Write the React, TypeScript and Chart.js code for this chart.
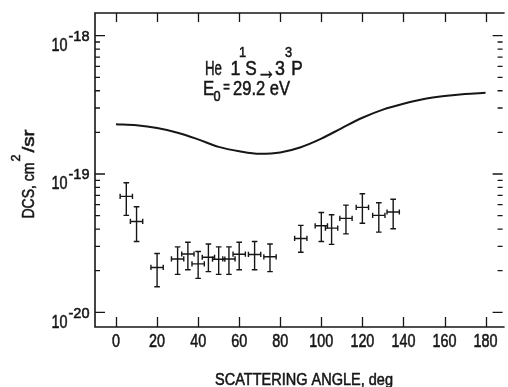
import React, { useEffect, useRef } from "react";
import { Chart, registerables } from "chart.js";

Chart.register(...registerables);

// Theory curve: differential cross section vs scattering angle
const curveAngles = [0, 10, 20, 30, 40, 50, 60, 70, 80, 90, 100, 110, 120, 130, 140, 150, 160, 170, 180];
const curveDcs = [
  2.29e-19, 2.25e-19, 2.15e-19, 1.99e-19, 1.78e-19, 1.57e-19, 1.46e-19, 1.4e-19, 1.43e-19, 1.56e-19,
  1.8e-19, 2.15e-19, 2.55e-19, 2.92e-19, 3.22e-19, 3.48e-19, 3.66e-19, 3.79e-19, 3.86e-19,
];

// Measured points with error bars (DCS in units of 1e-20 cm^2/sr)
const measAngles = [5, 10, 20, 30, 35, 40, 45, 50, 55, 60, 67.5, 75, 90, 100, 105, 112, 120, 128, 135];
const measDcs = [6.89, 4.54, 2.11, 2.43, 2.64, 2.24, 2.5, 2.42, 2.43, 2.63, 2.62, 2.52, 3.42, 4.22, 4.06, 4.78, 5.74, 5.02, 5.31];
const measUpper = [8.65, 5.8, 2.66, 2.97, 3.21, 2.75, 3.12, 2.97, 2.97, 3.21, 3.25, 3.12, 4.25, 5.27, 5.07, 5.96, 7.2, 6.19, 6.56];
const measLower = [5.02, 3.25, 1.53, 1.88, 2.03, 1.76, 1.97, 1.88, 1.88, 2.03, 2.03, 1.97, 2.72, 3.25, 3.1, 3.69, 4.4, 3.8, 4.02];
const angleHalfWidth = 3;
const measUnit = 1e-20;

// Axes
const xTicks = [0, 20, 40, 60, 80, 100, 120, 140, 160, 180];
const yDecades = [1e-20, 1e-19, 1e-18];
const yMinorMultipliers = [2, 3, 4, 5, 6, 7, 8, 9];
const xRange = [-10.24, 188.3];
const yRange = [7.83e-21, 1.459e-18];

const xTitle = "SCATTERING ANGLE, deg";
const INK = "#161616";
const FONT = '"Liberation Sans", Arial, "DejaVu Sans", sans-serif';

function ink(ctx: CanvasRenderingContext2D, s: string) {
  ctx.fillText(s, 0, 0);
  ctx.lineWidth = 0.55;
  ctx.strokeText(s, 0, 0);
}

function fitText(ctx: CanvasRenderingContext2D, s: string, x0: number, x1: number, baseline: number, size: number) {
  ctx.font = `${size}px ${FONT}`;
  const w = ctx.measureText(s).width;
  const sx = (x1 - x0) / w;
  ctx.save();
  ctx.translate(x0, baseline);
  ctx.scale(sx, 1);
  ctx.textAlign = "left";
  ctx.textBaseline = "alphabetic";
  ink(ctx, s);
  ctx.restore();
}

function centerText(ctx: CanvasRenderingContext2D, s: string, cx: number, baseline: number, size: number, sx: number) {
  ctx.font = `${size}px ${FONT}`;
  ctx.save();
  ctx.translate(cx, baseline);
  ctx.scale(sx, 1);
  ctx.textAlign = "center";
  ctx.textBaseline = "alphabetic";
  ink(ctx, s);
  ctx.restore();
}

const framePlugin = {
  id: "frameAndLabels",
  afterDraw(chart: any) {
    const ctx: CanvasRenderingContext2D = chart.ctx;
    const { left, right, top, bottom } = chart.chartArea;
    const xs = chart.scales.x;
    const ys = chart.scales.y;
    ctx.save();
    ctx.strokeStyle = INK;
    ctx.fillStyle = INK;
    ctx.lineCap = "butt";

    // frame: left, top, bottom
    ctx.lineWidth = 1.6;
    ctx.beginPath();
    ctx.moveTo(right + 2, top);
    ctx.lineTo(left, top);
    ctx.lineTo(left, bottom);
    ctx.lineTo(right + 2, bottom);
    ctx.stroke();

    // x ticks (inside, top and bottom)
    ctx.lineWidth = 1.3;
    ctx.beginPath();
    for (const t of xTicks) {
      const px = Math.round(xs.getPixelForValue(t)) + 0.5;
      ctx.moveTo(px, top);
      ctx.lineTo(px, top + 9);
      ctx.moveTo(px, bottom);
      ctx.lineTo(px, bottom - 10);
    }
    ctx.stroke();

    // y ticks (inside, left and right)
    ctx.beginPath();
    for (const d of yDecades) {
      const py = ys.getPixelForValue(d);
      ctx.moveTo(left, py);
      ctx.lineTo(left + 10, py);
      ctx.moveTo(right, py);
      ctx.lineTo(right - 10, py);
      for (const m of yMinorMultipliers) {
        const v = d * m;
        if (v > yRange[1]) continue;
        const pm = ys.getPixelForValue(v);
        ctx.moveTo(left, pm);
        ctx.lineTo(left + 5, pm);
        ctx.moveTo(right, pm);
        ctx.lineTo(right - 5, pm);
      }
    }
    ctx.stroke();

    // x tick labels
    for (const t of xTicks) {
      centerText(ctx, String(t), xs.getPixelForValue(t), bottom + 20, 17.5, 0.82);
    }

    // y tick labels: 10 with exponent
    for (const d of yDecades) {
      const py = ys.getPixelForValue(d);
      const exp = String(Math.round(Math.log10(d)));
      fitText(ctx, "10", 51.5, 67.5, py + 15.5, 18);
      fitText(ctx, exp, 68.5, 89.5, py + 5.5, 15.5);
    }

    // x axis title
    fitText(ctx, xTitle, 215, 393, 385, 16.5);

    // y axis title, rotated
    ctx.save();
    ctx.translate(33.5, 218.5);
    ctx.rotate(-Math.PI / 2);
    fitText(ctx, "DCS, cm", 0, 56, 0, 16.5);
    fitText(ctx, "2", 57, 64, -14, 12.5);
    fitText(ctx, "/sr", 66, 89, 0, 16.5);
    ctx.restore();

    // annotation
    fitText(ctx, "He", 205, 222, 75, 21);
    centerText(ctx, "1", 235.5, 75, 21, 0.85);
    centerText(ctx, "1", 242.5, 56.5, 15, 0.85);
    centerText(ctx, "S", 251, 75, 21, 0.82);
    fitText(ctx, "\u2192", 257, 276, 79, 26);
    centerText(ctx, "3", 280, 75, 21, 0.85);
    centerText(ctx, "3", 288.5, 56.5, 15, 0.85);
    centerText(ctx, "P", 297, 75, 21, 0.82);

    centerText(ctx, "E", 208.5, 95, 21, 0.8);
    centerText(ctx, "0", 217, 100.5, 15, 0.85);
    centerText(ctx, "=", 226.5, 92, 14, 0.8);
    fitText(ctx, "29.2 eV", 233, 290, 95, 21);

    ctx.restore();
  },
};

export default function App() {
  const ref = useRef<HTMLCanvasElement>(null);

  useEffect(() => {
    const curveData = curveAngles.map((a, i) => ({ x: a, y: curveDcs[i] }));
    const vBars: any[] = [];
    const hBars: any[] = [];
    measAngles.forEach((a, i) => {
      const y = measDcs[i] * measUnit;
      vBars.push({ x: a, y: measLower[i] * measUnit }, { x: a, y: measUpper[i] * measUnit }, { x: a, y: null });
      hBars.push({ x: a - angleHalfWidth, y }, { x: a + angleHalfWidth, y }, { x: a + angleHalfWidth, y: null });
    });

    const chart = new Chart(ref.current!, {
      type: "scatter",
      data: {
        datasets: [
          {
            data: curveData,
            showLine: true,
            borderColor: INK,
            borderWidth: 2,
            pointRadius: 0,
            tension: 0.4,
            cubicInterpolationMode: "monotone",
          } as any,
          {
            data: vBars,
            showLine: true,
            spanGaps: false,
            borderColor: INK,
            borderWidth: 1.4,
            pointStyle: "line",
            pointRadius: 2.8,
            pointBorderWidth: 1.4,
            pointBorderColor: INK,
            pointRotation: 0,
          } as any,
          {
            data: hBars,
            showLine: true,
            spanGaps: false,
            borderColor: INK,
            borderWidth: 1.4,
            pointStyle: "line",
            pointRadius: 2.6,
            pointBorderWidth: 1.4,
            pointBorderColor: INK,
            pointRotation: 90,
          } as any,
        ],
      },
      options: {
        responsive: false,
        maintainAspectRatio: false,
        animation: false,
        layout: { padding: { left: 95, top: 13, right: 0, bottom: 60 } },
        plugins: { legend: { display: false }, tooltip: { enabled: false } },
        scales: {
          x: { type: "linear", display: false, min: xRange[0], max: xRange[1] },
          y: { type: "logarithmic", display: false, min: yRange[0], max: yRange[1] },
        },
      },
      plugins: [framePlugin],
    });
    return () => chart.destroy();
  }, []);

  return (
    <div style={{ position: "fixed", left: 0, top: 0, width: 508, height: 387, background: "#fff" }}>
      <canvas ref={ref} width={508} height={387} style={{ display: "block" }} />
    </div>
  );
}
